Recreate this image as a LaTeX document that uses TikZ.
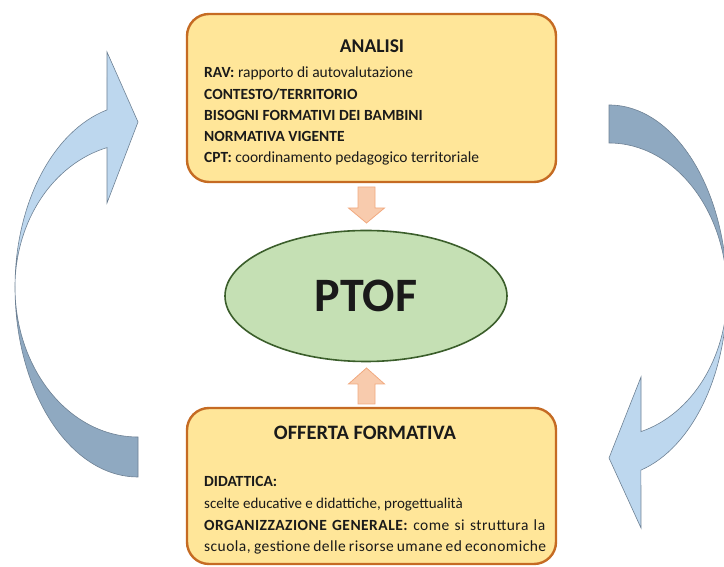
\documentclass[tikz,border=0pt]{standalone}
\usepackage{fontspec}
\setmainfont{Carlito}
\usetikzlibrary{shapes.geometric}
\definecolor{boxfill}{HTML}{FFE699}
\definecolor{boxedge}{RGB}{197,107,35}
\definecolor{ellfill}{HTML}{C5E0B4}
\definecolor{elledge}{HTML}{3B5E2B}
\definecolor{smallfill}{HTML}{F8CBAD}
\definecolor{smalledge}{HTML}{F1A97F}
\definecolor{arrowlight}{HTML}{BDD7EE}
\definecolor{arrowdark}{HTML}{8FA9C1}
\definecolor{arrowedge}{HTML}{6E8194}
\definecolor{txt}{HTML}{1A1A1A}
\tikzset{
  infobox/.style={draw=boxedge, line width=2.4pt, fill=boxfill, rounded corners=22pt,
    minimum width=369pt, inner sep=0pt},
  heading/.style={font=\fontsize{19.5}{23}\selectfont\bfseries, text=txt, inner sep=0pt, anchor=base},
  bodyline/.style={font=\fontsize{15.5}{18}\selectfont, text=txt, inner sep=0pt, anchor=base west},
  wideline/.style={font=\fontsize{15.5}{18}\selectfont\addfontfeatures{LetterSpace=3}, text=txt, inner sep=0pt, anchor=base west},
  lightband/.style={fill=arrowlight, draw=arrowedge, line width=0.6pt},
  darkband/.style={fill=arrowdark, draw=arrowedge, line width=0.6pt},
  blockarrow/.style={fill=smallfill, draw=smalledge, line width=0.8pt},
}
\begin{document}
\begin{tikzpicture}[x=1pt,y=1pt]
\useasboundingbox (0,0) rectangle (724,567);
\clip (0,0) rectangle (724,567);

% left curved arrow
\path[darkband] (15,280) arc[start angle=180,end angle=270,x radius=123,y radius=190]
  -- (138,130) arc[start angle=270,end angle=180,x radius=123,y radius=150] -- cycle;
\path[lightband] (15,280) arc[start angle=180,end angle=104.6,x radius=123,y radius=183]
  -- (107,515) -- (138,445) -- (107,364) -- (107,419.4)
  arc[start angle=104.6,end angle=180,x radius=123,y radius=144] -- cycle;

% right curved arrow
\path[darkband] (727,274) arc[start angle=0,end angle=90,x radius=118,y radius=188]
  -- (609,424) arc[start angle=90,end angle=0,x radius=118,y radius=150] -- cycle;
\path[lightband] (727,274) arc[start angle=0,end angle=-74.3,x radius=118,y radius=184]
  -- (641,39) -- (609,109) -- (641,190) -- (641,135.4)
  arc[start angle=-74.3,end angle=0,x radius=118,y radius=144] -- cycle;

% boxes
\node[infobox, minimum height=168pt] (analisi) at (371.5,469) {};
\node[infobox, minimum height=156pt] (offerta) at (371.5,81) {};

% ellipse
\node[ellipse, draw=elledge, line width=1.6pt, fill=ellfill, minimum width=282pt,
  minimum height=131pt, inner sep=0pt, font=\fontsize{48}{50}\selectfont\bfseries, text=txt]
  (ptof) at (366,271) {PTOF};

% small block arrows
\path[blockarrow] (358,380) -- (375,380) -- (375,359) -- (384.5,359) -- (366.5,344)
  -- (348.5,359) -- (358,359) -- cycle;
\path[blockarrow] (358,163) -- (375,163) -- (375,183) -- (384.5,183) -- (366.5,199)
  -- (348.5,183) -- (358,183) -- cycle;

% texts top box
\node[heading] (h1) at (372,514) {ANALISI};
\node[bodyline] (a1) at (204,489) {\textbf{RAV:} rapporto di autovalutazione};
\node[bodyline] (a2) at (204,467) {\textbf{CONTESTO/TERRITORIO}};
\node[bodyline] (a3) at (204,446) {\textbf{BISOGNI FORMATIVI DEI BAMBINI}};
\node[bodyline] (a4) at (204,425) {\textbf{NORMATIVA VIGENTE}};
\node[bodyline] (a5) at (204,404) {\textbf{CPT:} coordinamento pedagogico territoriale};

% texts bottom box
\node[heading, font=\fontsize{20.5}{24}\selectfont\bfseries] (h2) at (365,127) {OFFERTA FORMATIVA};
\node[bodyline] (b1) at (204,80) {\textbf{DIDATTICA:}};
\node[bodyline, font=\fontsize{15}{18}\selectfont] (b2) at (204,58) {scelte educative e didattiche, progettualità};
\node[wideline] (b3) at (204,36) {\makebox[341pt][s]{\textbf{ORGANIZZAZIONE GENERALE:} come si struttura la}};
\node[wideline] (b4) at (204,15) {\makebox[342pt][s]{scuola, gestione delle risorse umane ed economiche}};
\end{tikzpicture}
\end{document}
